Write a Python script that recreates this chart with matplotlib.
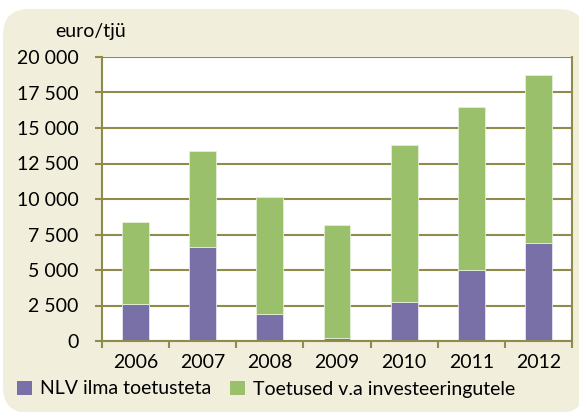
import matplotlib.pyplot as plt
from matplotlib.patches import FancyBboxPatch, Patch
from matplotlib.ticker import FuncFormatter

years = ['2006', '2007', '2008', '2009', '2010', '2011', '2012']
nlv = [2600, 6640, 1900, 200, 2720, 4980, 6920]
toetused = [5760, 6740, 8260, 7990, 11080, 11500, 11810]

purple = '#7A70A8'
green = '#9BC06B'
olive = '#8E8B4B'
cream = '#F1EFDC'

plt.rcParams['font.family'] = ['Lato', 'DejaVu Sans']

fig = plt.figure(figsize=(5.79, 4.12), dpi=100)
fig.patch.set_facecolor('white')
# rounded cream background, partly cut off on the right and bottom
bg = FancyBboxPatch((3 / 579, -1 / 412), 582 / 579, 404 / 412,
                    boxstyle='round,pad=0,rounding_size=0.045',
                    transform=fig.transFigure, facecolor=cream,
                    edgecolor='none', mutation_aspect=579 / 412, zorder=-5)
fig.patches.append(bg)

ax = fig.add_axes([102 / 579, 71 / 412, 470 / 579, 284 / 412])
ax.set_zorder(2)
ax.set_facecolor('white')

x = range(len(years))
ax.bar(x, nlv, width=0.4, color=purple, edgecolor='#E6E4F0', linewidth=0.6, zorder=3)
ax.bar(x, toetused, width=0.4, bottom=nlv, color=green, edgecolor='#E4F0D8', linewidth=0.6, zorder=3)

ax.set_xlim(-0.5, 6.5)
ax.set_ylim(0, 20000)
ax.set_yticks(range(0, 20001, 2500))
ax.yaxis.set_major_formatter(FuncFormatter(lambda v, p: f'{int(v):,}'.replace(',', ' ')))
ax.grid(axis='y', color=olive, linewidth=1.5, zorder=1)

ax.set_xticks(list(x))
ax.set_xticklabels(years)
ax.set_xticks([i - 0.5 for i in range(len(years) + 1)], minor=True)
ax.tick_params(axis='x', which='major', length=0, pad=9, labelsize=14)
ax.tick_params(axis='x', which='minor', length=5, width=1.5, color=olive, direction='out')
ax.tick_params(axis='y', length=5, width=1.5, color=olive, pad=12, labelsize=14)

for side in ['left', 'bottom', 'right']:
    ax.spines[side].set_color(olive)
    ax.spines[side].set_linewidth(1.5)
    ax.spines[side].set_zorder(4)
ax.spines['top'].set_visible(False)

fig.text(55 / 579, 1 - 31 / 412, 'euro/tjü', fontsize=14, va='center', ha='left')

handles = [Patch(facecolor=purple, label='NLV ilma toetusteta'),
           Patch(facecolor=green, label='Toetused v.a investeeringutele')]
fig.legend(handles=handles, loc='center', bbox_to_anchor=(266 / 579, 1 - 389 / 412), ncol=2,
           frameon=False, fontsize=14, handlelength=0.75, handleheight=0.75,
           handletextpad=0.4, columnspacing=1.0, borderpad=0)

fig.savefig('out.png', dpi=100, facecolor=fig.get_facecolor())
